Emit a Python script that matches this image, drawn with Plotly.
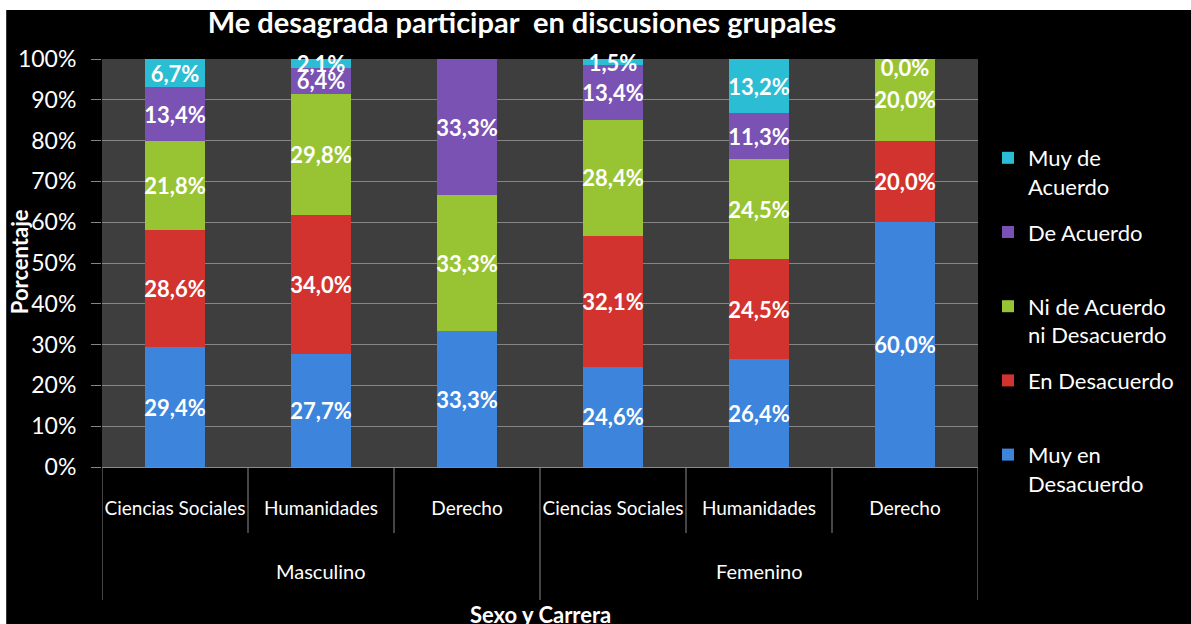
import plotly.graph_objects as go

# ---- data ----
groups = ["Masculino", "Masculino", "Masculino", "Femenino", "Femenino", "Femenino"]
careers = ["Ciencias Sociales", "Humanidades", "Derecho", "Ciencias Sociales", "Humanidades", "Derecho"]
series_names = ["Muy en<br>Desacuerdo", "En Desacuerdo<br> ", "Ni de Acuerdo<br>ni Desacuerdo", "De Acuerdo<br> ", "Muy de<br>Acuerdo"]
muy_en_desacuerdo = [29.4, 27.7, 33.3, 24.6, 26.4, 60.0]
en_desacuerdo = [28.6, 34.0, None, 32.1, 24.5, 20.0]
ni_ni = [21.8, 29.8, 33.3, 28.4, 24.5, 20.0]
de_acuerdo = [13.4, 6.4, 33.3, 13.4, 11.3, None]
muy_de_acuerdo = [6.7, 2.1, None, 1.5, 13.2, 0.0]
y_ticks = [0, 10, 20, 30, 40, 50, 60, 70, 80, 90, 100]
y_ticktext = ["0%", "10%", "20%", "30%", "40%", "50%", "60%", "70%", "80%", "90%", "100%"]

colors = ["#3d84dc", "#d2332e", "#98c434", "#7a52b3", "#2bbdd3"]
series = [muy_en_desacuerdo, en_desacuerdo, ni_ni, de_acuerdo, muy_de_acuerdo]

FONT = "Lato"
x_pos = list(range(len(careers)))

def fmt(v):
    return "" if v is None else (f"{v:.1f}".replace(".", ",") + "%")

fig = go.Figure()
for k, (name, vals, col) in enumerate(zip(series_names, series, colors)):
    fig.add_trace(go.Bar(
        x=x_pos, y=vals, name=name, legendgroup=name, legendrank=100 * (len(series) - k),
        marker=dict(color=col, line=dict(width=0)),
        text=[fmt(v) for v in vals], textposition="inside", insidetextanchor="middle",
        textfont=dict(family=FONT, size=22, color="white", weight="bold"),
        textangle=0, cliponaxis=False,
    ))

# zero-valued segments: label drawn at the stack top (from data)
for i in x_pos:
    if muy_de_acuerdo[i] == 0.0:
        top = sum(s[i] for s in series if s[i] is not None)
        fig.add_trace(go.Scatter(x=[i], y=[top], mode="text", text=[fmt(muy_de_acuerdo[i])],
                                 textposition="bottom center", showlegend=False, cliponaxis=False,
                                 textfont=dict(family=FONT, size=22, color="white", weight="bold")))

# layout geometry (pixels)
W, H = 1191, 624
L, R, T, B = 102, 211, 59, 157
pw, ph = W - L - R, H - T - B

def px_x(p):
    return (p - L) / pw

def px_y(p):
    return 1 - (p - T) / ph

shapes = [
    dict(type="rect", xref="paper", yref="paper", x0=px_x(6), x1=px_x(W + 5), y0=px_y(H + 5), y1=px_y(10),
         fillcolor="black", line=dict(width=0), layer="below"),
    dict(type="rect", xref="paper", yref="paper", x0=0, x1=1, y0=0, y1=1,
         fillcolor="#3e3e3e", line=dict(width=0), layer="below"),
]
n = len(careers)
for i in range(n + 1):
    outer = i == 0 or i == n or groups[i - 1] != groups[i]
    shapes.append(dict(type="line", xref="x", yref="paper", x0=i - 0.5, x1=i - 0.5,
                       y0=0, y1=px_y(600) if outer else px_y(533),
                       line=dict(color="#8a8a8a", width=1), layer="above"))

annotations = []
uniq = []
for g in groups:
    if g not in uniq:
        uniq.append(g)
for g in uniq:
    idx = [i for i, gg in enumerate(groups) if gg == g]
    annotations.append(dict(x=sum(idx) / len(idx), xref="x", y=px_y(571), yref="paper", yanchor="middle",
                            text=g, showarrow=False, font=dict(family=FONT, size=20, color="white")))
annotations.append(dict(x=px_x(541), xref="paper", y=px_y(614), yref="paper", yanchor="middle",
                        text="<b>Sexo y Carrera</b>",
                        showarrow=False, font=dict(family=FONT, size=22, color="white")))
annotations.append(dict(x=px_x(19), xref="paper", y=px_y(262), yref="paper", xanchor="center",
                        yanchor="middle", textangle=-90, text="<b>Porcentaje</b>",
                        showarrow=False, font=dict(family=FONT, size=22, color="white")))

fig.update_layout(
    width=W, height=H,
    margin=dict(l=L, r=R, t=T, b=B, pad=0),
    paper_bgcolor="white", plot_bgcolor="rgba(0,0,0,0)",
    barmode="stack", bargap=0.59,
    title=dict(text="<b>Me desagrada participar  en discusiones grupales</b>", x=522 / W, xanchor="center",
               y=1 - 23 / H, yanchor="middle", font=dict(family=FONT, size=29, color="white")),
    xaxis=dict(range=[-0.5, n - 0.5], tickvals=x_pos, ticktext=careers, showgrid=False, zeroline=False,
               showline=True, linecolor="#8a8a8a", linewidth=1, ticks="", ticklabelstandoff=24,
               tickfont=dict(family=FONT, size=19, color="white"), fixedrange=True),
    yaxis=dict(range=[0, 100], tickvals=y_ticks, ticktext=y_ticktext, showgrid=True, gridcolor="#858585",
               gridwidth=1, zeroline=False, ticks="outside", ticklen=10, tickcolor="#858585",
               ticklabelstandoff=10,
               tickfont=dict(family=FONT, size=23, color="white")),
    legend=dict(x=px_x(990), y=px_y(137), xanchor="left", yanchor="top", traceorder="grouped",
                tracegroupgap=14, valign="top", bgcolor="rgba(0,0,0,0)",
                font=dict(family=FONT, size=22, color="white")),
    uniformtext=dict(minsize=22, mode="show"),
    shapes=shapes, annotations=annotations,
)

fig.write_html("out.html", config={"displayModeBar": False},
               post_script="document.body.style.margin='0';document.body.style.overflow='hidden';")
